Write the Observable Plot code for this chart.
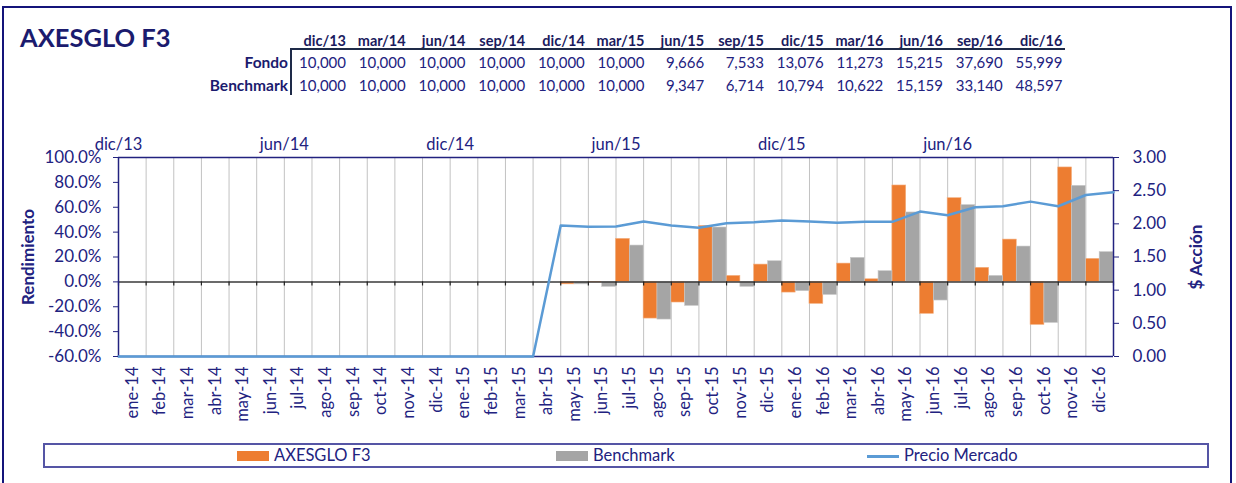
<!DOCTYPE html>
<html>
<head>
<meta charset="utf-8">
<script src="https://cdn.jsdelivr.net/npm/d3@7"></script>
<script src="https://cdn.jsdelivr.net/npm/@observablehq/plot@0.6"></script>
<style>
  html, body { margin: 0; padding: 0; background: #fff; }
  body { width: 1236px; height: 483px; position: relative; overflow: hidden; font-family: Lato, "Open Sans", sans-serif; color: #22227F; }
  .abs { position: absolute; white-space: nowrap; }
  #outer { position: absolute; left: 2px; top: 6px; width: 1230px; height: 500px; border: 2px solid #14147A; box-sizing: border-box; }
  #title { left: 20px; top: 22px; font-size: 25.5px; font-weight: 700; color: #1B1B6E; line-height: 30px; }
  .cell { position: absolute; text-align: right; font-size: 15px; line-height: 18px; width: 70px; }
  .hdr { font-weight: 700; color: #1B1B5E; font-size: 14.5px; }
  .rowlab { position: absolute; text-align: right; font-size: 15.5px; font-weight: 700; line-height: 18px; width: 120px; color: #1B1B6E; }
  #chart { position: absolute; left: 0; top: 125px; }
  #legend { position: absolute; left: 43px; top: 443px; width: 1166px; height: 25px; border: 2px solid #5555A5; box-sizing: border-box; }
  .lt { position: absolute; font-size: 16.5px; line-height: 21px; color: #22227F; }
  #chart svg [aria-label="y-axis label"] text { font-weight: 700; font-size: 17px; }
  #chart svg [aria-label="y-axis tick label"] text { font-size: 17px; }
  #chart svg [aria-label="x-axis tick label"] text { font-size: 16.5px; }
</style>
</head>
<body>
<div id="outer"></div>
<div id="title" class="abs">AXESGLO F3</div>
<div id="table"></div>
<div id="chart"></div>
<div id="legend"></div>
<script>
// ---- Data ----
const tableDates = ["dic/13","mar/14","jun/14","sep/14","dic/14","mar/15","jun/15","sep/15","dic/15","mar/16","jun/16","sep/16","dic/16"];
const tableFondo = ["10,000","10,000","10,000","10,000","10,000","10,000","9,666","7,533","13,076","11,273","15,215","37,690","55,999"];
const tableBench = ["10,000","10,000","10,000","10,000","10,000","10,000","9,347","6,714","10,794","10,622","15,159","33,140","48,597"];

const months = ["ene-14","feb-14","mar-14","abr-14","may-14","jun-14","jul-14","ago-14","sep-14","oct-14","nov-14","dic-14",
                "ene-15","feb-15","mar-15","abr-15","may-15","jun-15","jul-15","ago-15","sep-15","oct-15","nov-15","dic-15",
                "ene-16","feb-16","mar-16","abr-16","may-16","jun-16","jul-16","ago-16","sep-16","oct-16","nov-16","dic-16"];
// monthly returns (%)
const fondoRet = [null,null,null,null,null,null,null,null,null,null,null,null,null,null,null,null,
                  -2.0,-0.5,34.6,-29.5,-16.6,45.0,4.8,13.9,-8.6,-17.7,14.7,2.1,77.5,-25.7,67.3,11.3,34.0,-34.6,92.0,18.5];
const benchRet = [null,null,null,null,null,null,null,null,null,null,null,null,null,null,null,null,
                  -2.0,-4.0,29.2,-30.3,-19.3,43.7,-4.0,16.6,-7.5,-10.5,19.3,8.6,55.8,-15.0,61.7,4.8,28.4,-33.0,77.2,23.9];
// market price ($ per share) at month ends dic/13 .. dic/16
const priceDates = ["dic/13","ene/14","feb/14","mar/14","abr/14","may/14","jun/14","jul/14","ago/14","sep/14","oct/14","nov/14",
                    "dic/14","ene/15","feb/15","mar/15","abr/15","may/15","jun/15","jul/15","ago/15","sep/15","oct/15","nov/15",
                    "dic/15","ene/16","feb/16","mar/16","abr/16","may/16","jun/16","jul/16","ago/16","sep/16","oct/16","nov/16","dic/16"];
const price = [0,0,0,0,0,0,0,0,0,0,0,0,0,0,0,0,
               1.975,1.956,1.96,2.035,1.975,1.94,2.01,2.025,2.05,2.035,2.015,2.03,2.03,2.185,2.13,2.25,2.265,2.335,2.265,2.435,2.475];
const topAxisEvery = 6;
const leftTicks = [-60,-40,-20,0,20,40,60,80,100];
const rightTicks = [0,0.5,1,1.5,2,2.5,3];
const legendItems = ["AXESGLO F3","Benchmark","Precio Mercado"];

const navy = "#22227F";
const orange = "#ED7D31";
const gray = "#A5A5A5";
const blue = "#5B9BD5";

// ---- Table (HTML) ----
const tbl = document.getElementById("table");
function addCell(txt, right, top, cls) {
  const d = document.createElement("div");
  d.className = "cell " + (cls || "");
  d.style.left = (right - 70) + "px";
  d.style.top = top + "px";
  d.textContent = txt;
  tbl.appendChild(d);
}
tableDates.forEach((t, j) => {
  const r = 346 + j * 59.7;
  addCell(t, r, 32, "hdr");
  addCell(tableFondo[j], r, 53);
  addCell(tableBench[j], r, 76);
});
[["Fondo", 53], ["Benchmark", 76]].forEach(([t, y]) => {
  const d = document.createElement("div");
  d.className = "rowlab"; d.style.left = (288 - 120) + "px"; d.style.top = y + "px"; d.textContent = t;
  tbl.appendChild(d);
});
const hl = document.createElement("div");
hl.style.cssText = "position:absolute;left:291px;top:48px;width:774px;height:2px;background:#1E2A48;";
tbl.appendChild(hl);
const vl = document.createElement("div");
vl.style.cssText = "position:absolute;left:290px;top:48px;width:2px;height:47px;background:#1E2A48;";
tbl.appendChild(vl);

// ---- Chart ----
const p2y = p => -60 + p * 160 / 3;
const y2p = y => (y + 60) * 3 / 160;
const bars = months.map((m, i) => ({i, m, f: fondoRet[i], b: benchRet[i]}));
const fBars = bars.filter(d => d.f != null);
const bBars = bars.filter(d => d.b != null);
const line = price.map((p, i) => ({i, p, d: priceDates[i]}));

const chart = Plot.plot({
  width: 1236,
  height: 315,
  marginLeft: 118,
  marginRight: 123,
  marginTop: 32,
  marginBottom: 84,
  style: {fontFamily: "Lato, 'Open Sans', sans-serif", fontSize: "16px", color: navy, background: "transparent", overflow: "visible"},
  x: {type: "linear", domain: [0, months.length]},
  y: {domain: [-60, 100]},
  marks: [
    Plot.ruleX(d3.range(1, months.length), {stroke: "#C2C2C2", strokeWidth: 1}),
    Plot.rect(fBars, {x1: d => d.i, x2: d => d.i + 0.5, y1: 0, y2: d => d.f, fill: orange, stroke: "#F4B183", strokeWidth: 0.6}),
    Plot.rect(bBars, {x1: d => d.i + 0.5, x2: d => d.i + 1, y1: 0, y2: d => d.b, fill: gray, stroke: "#C9C9C9", strokeWidth: 0.6}),
    Plot.ruleY([0], {stroke: "#3A3A3A", strokeWidth: 1.5}),
    Plot.ruleX(d3.range(0, months.length + 1), {y1: 0, y2: -3.3, stroke: "#222", strokeWidth: 1.2}),
    Plot.ruleX([0, months.length], {stroke: navy, strokeWidth: 1.5}),
    Plot.ruleY([-60, 100], {stroke: navy, strokeWidth: 1.5}),
    Plot.line(line, {x: "i", y: d => p2y(d.p), stroke: blue, strokeWidth: 2.5}),
    Plot.axisY({anchor: "left", ticks: leftTicks, tickFormat: d => d.toFixed(1) + "%", tickSize: 5, tickPadding: 12,
                label: "Rendimiento", labelAnchor: "center", labelOffset: 97, labelArrow: "none"}),
    Plot.axisY({anchor: "right", ticks: rightTicks.map(p2y), tickFormat: d => y2p(d).toFixed(2), tickSize: 5, tickPadding: 14,
                label: "$ Acción", labelAnchor: "center", labelOffset: 88, labelArrow: "none"}),
    Plot.axisX({anchor: "bottom", ticks: months.map((m, i) => i + 0.5), tickFormat: d => months[Math.floor(d)],
                tickSize: 0, tickPadding: 10, tickRotate: -90, label: null}),
    Plot.axisX({anchor: "top", ticks: d3.range(0, months.length, topAxisEvery), tickFormat: d => priceDates[d],
                tickSize: 0, tickPadding: 8, label: null})
  ]
});
document.getElementById("chart").appendChild(chart);

// ---- Legend (HTML) ----
const lg = document.getElementById("legend");
const legX = [237, 556, 867];
legendItems.forEach((t, k) => {
  const sw = document.createElement("div");
  const x = legX[k] - 45;
  if (k < 2) {
    sw.style.cssText = `position:absolute;left:${x}px;top:6px;width:32px;height:10px;background:${k === 0 ? orange : gray};`;
  } else {
    sw.style.cssText = `position:absolute;left:${x}px;top:9.5px;width:32px;height:3px;background:${blue};`;
  }
  lg.appendChild(sw);
  const tx = document.createElement("div");
  tx.className = "lt";
  tx.style.left = (x + 37) + "px";
  tx.style.top = "0px";
  tx.textContent = t;
  lg.appendChild(tx);
});
</script>
</body>
</html>
